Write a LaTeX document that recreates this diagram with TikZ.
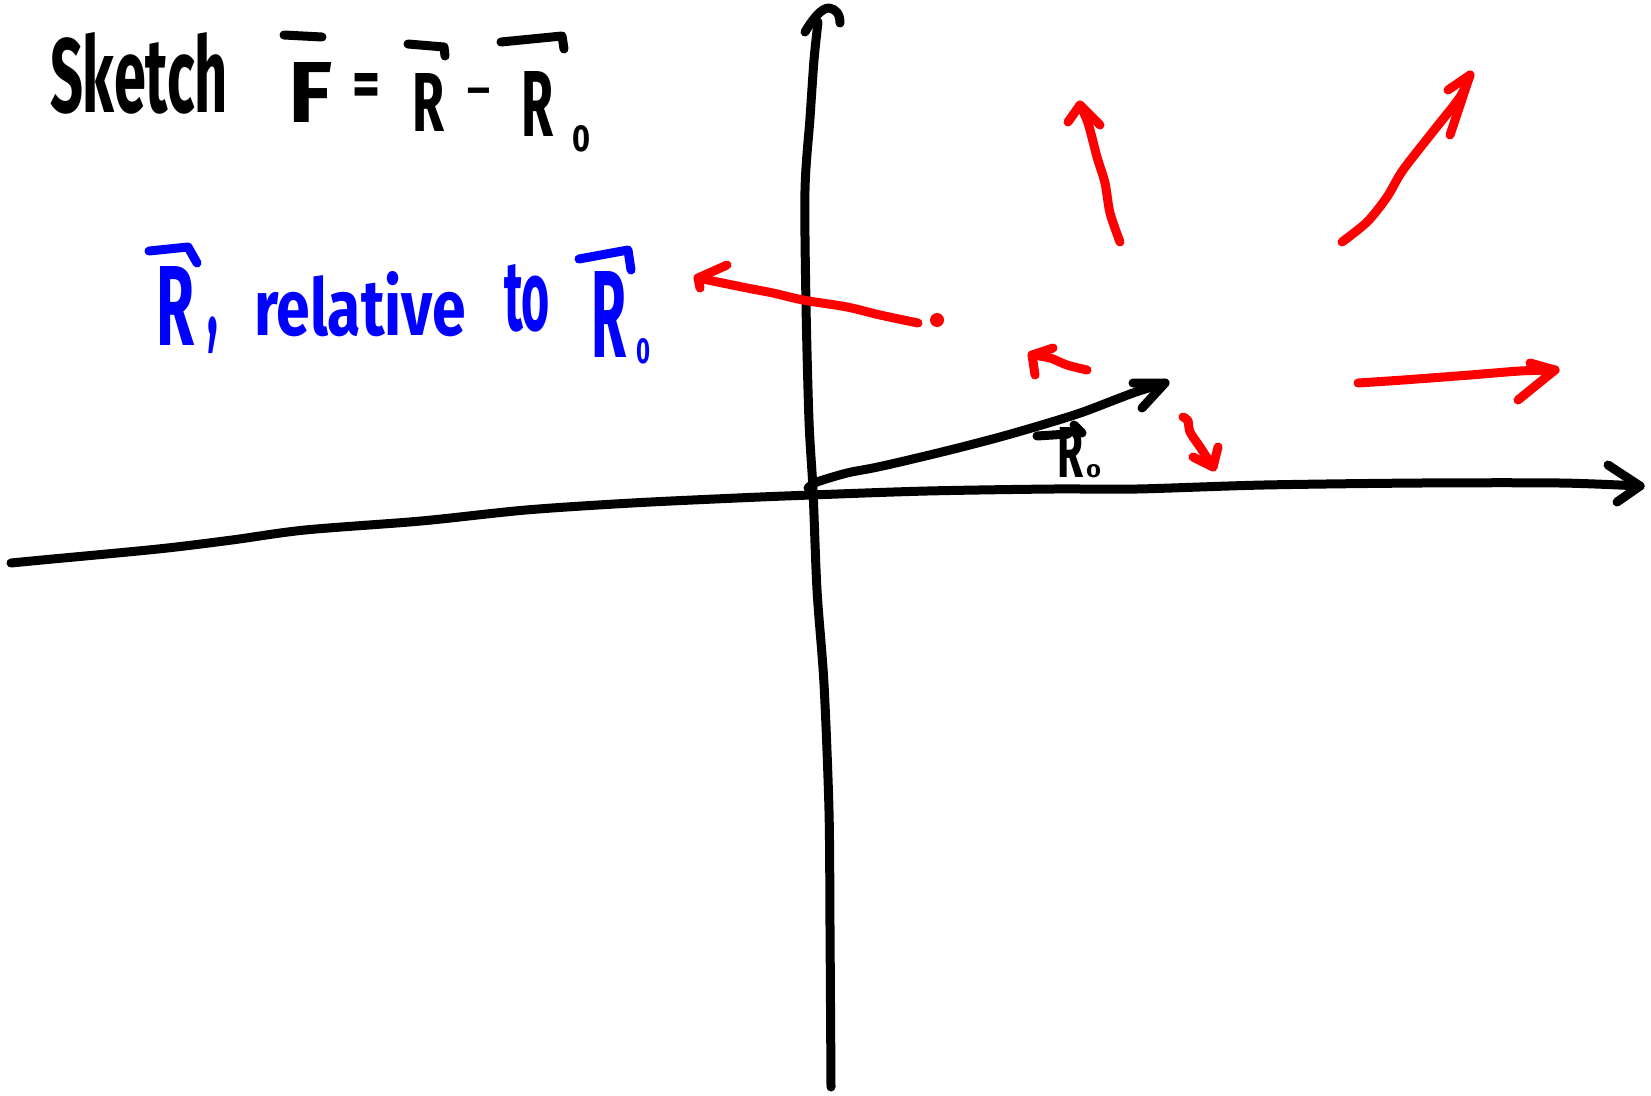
\documentclass[tikz,border=0pt]{standalone}
\usepackage{fontspec}
\setmainfont{Fira Sans}
\usepackage{graphicx}
\tikzset{
  ink/.style={line width=9pt, line cap=round, line join=round},
  blackink/.style={ink, draw=black},
  redink/.style={ink, draw=red},
  blueink/.style={ink, draw=blue},
  txt/.style={inner sep=0pt, outer sep=0pt, anchor=base west, font=\bfseries},
}
\begin{document}
\begin{tikzpicture}[x=1pt,y=-1pt]
\path[use as bounding box, fill=white] (0,0) rectangle (1651,1095);

% ---------- axes ----------
\coordinate (ybot) at (831,1087);
\coordinate (ytop) at (818,22);
\draw[blackink] plot[smooth,tension=0.5] coordinates {(ybot) (830,927) (829,811) (824,684) (817,590) (813,490) (809,421) (806,305) (805,190) (810,118) (814,60) (ytop)};
\draw[blackink] (805,32) .. controls (814,17) and (822,8) .. (829,8) .. controls (836,9) and (840,14) .. (840,23);

\coordinate (xleft) at (11,563);
\coordinate (xtip) at (1640,486);
\draw[blackink] plot[smooth,tension=0.5] coordinates {(xleft) (42,560) (158,549) (232,540) (305,530) (421,521) (526,510) (632,503) (737,498) (811,495) (927,491) (1053,489) (1137,489) (1264,485) (1421,483) (1560,483) (xtip)};
\draw[blackink] (1608,465) -- (xtip) -- (1617,502);

% ---------- vector R0 ----------
\coordinate (origin) at (808,488);
\coordinate (r0tip) at (1165,383);
\draw[blackink] plot[smooth,tension=0.5] coordinates {(origin) (817,482) (847,473) (873,468) (900,462) (950,450) (1000,437) (1045,424) (1083,412) (1133,393) (r0tip)};
\draw[blackink] (1133,383) -- (r0tip) -- (1142,408);

% label R0 at the vector
\node[txt] (lR) at (1057,477) {\resizebox{26pt}{50pt}{R}};
\node[txt] (lsub) at (1086,477) {\resizebox{15pt}{13pt}{0}};
\draw[blackink] (1037,436) -- (1068,434);
\draw[blackink] (1074,425) -- (1082,433);

% ---------- title ----------
\node[txt] (sketch) at (50,112) {\resizebox{178pt}{80pt}{Sketch}};
\node[txt] (F) at (288,122) {\resizebox{44pt}{60pt}{F}};
\draw[blackink] (284,35) -- (322,37);
\node[txt, anchor=north] (eq) at (366,73) {\resizebox{28pt}{34pt}{=}};
\node[txt] (R1) at (412,131) {\resizebox{32pt}{58pt}{R}};
\draw[blackink] (408,44) -- (444,47) -- (445,56);
\node[txt, anchor=north] (minus) at (479,88) {\fontsize{44}{44}\selectfont –};
\node[txt] (R2) at (521,136) {\resizebox{32pt}{65pt}{R}};
\draw[blackink] (501,42) -- (562,36) -- (564,49);
\node[txt] (sub0) at (572,151) {\resizebox{18pt}{26pt}{0}};

% ---------- blue caption ----------
\node[txt, text=blue] (bR) at (156,345) {\resizebox{38pt}{79pt}{R}};
\draw[blueink] (149,251) -- (188,247) -- (197,263);
\node[txt, text=blue] (comma) at (207,334) {\scalebox{0.5}[1.2]{\fontsize{90}{90}\selectfont ,}};
\node[txt, text=blue] (relative) at (254,335) {\resizebox{212pt}{64pt}{relative}};
\node[txt, text=blue] (to) at (504,330) {\resizebox{46pt}{66pt}{to}};
\node[txt, text=blue] (bR0) at (591,357) {\resizebox{35pt}{86pt}{R}};
\draw[blueink] (579,259) -- (628,250) -- (631,270);
\node[txt, text=blue] (bsub) at (636,363) {\resizebox{14pt}{25pt}{0}};

% ---------- red field arrows ----------
% long arrow to the left
\coordinate (a1tail) at (918,323);
\coordinate (a1tip) at (698,278);
\draw[redink] plot[smooth,tension=0.5] coordinates {(a1tail) (880,315) (847,307) (803,300) (773,293) (747,288) (a1tip)};
\draw[redink] (727,265) -- (a1tip) -- (700,288);
\fill[red] (937,320) circle (7);

% upward arrow
\coordinate (a2tail) at (1120,242);
\coordinate (a2tip) at (1080,105);
\draw[redink] plot[smooth,tension=0.5] coordinates {(a2tail) (1110,213) (1105,183) (1097,157) (1088,123) (a2tip)};
\draw[redink] (1068,122) -- (a2tip) -- (1100,125);

% up-right arrow
\coordinate (a3tail) at (1342,242);
\coordinate (a3tip) at (1470,75);
\draw[redink] plot[smooth,tension=0.5] coordinates {(a3tail) (1367,222) (1387,197) (1403,170) (1435,129) (1460,97) (a3tip)};
\draw[redink] (1448,90) -- (a3tip) -- (1450,135);

% small arrow to the left
\coordinate (a4tail) at (1087,370);
\coordinate (a4tip) at (1032,355);
\draw[redink] plot[smooth,tension=0.5] coordinates {(a4tail) (1067,365) (1050,358) (a4tip)};
\draw[redink] (1053,348) -- (a4tip) -- (1035,375);

% small arrow down-right
\coordinate (a5tail) at (1183,417);
\coordinate (a5tip) at (1213,467);
\draw[redink] plot[smooth,tension=0.5] coordinates {(a5tail) (1188,421) (1190,432) (1200,447) (a5tip)};
\draw[redink] (1193,457) -- (a5tip) -- (1218,447);

% arrow to the right
\coordinate (a6tail) at (1358,383);
\coordinate (a6tip) at (1555,370);
\draw[redink] plot[smooth,tension=0.5] coordinates {(a6tail) (1403,380) (1470,375) (1520,371) (a6tip)};
\draw[redink] (1530,363) -- (a6tip) -- (1518,400);
\end{tikzpicture}
\end{document}
